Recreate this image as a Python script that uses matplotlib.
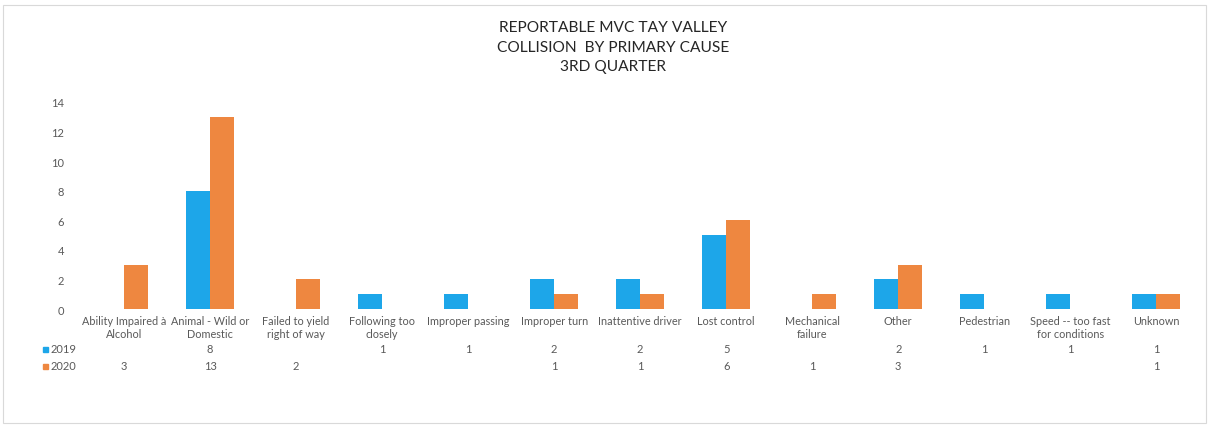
import numpy as np
import matplotlib
matplotlib.use("Agg")
import matplotlib.pyplot as plt
from matplotlib.patches import Rectangle
import matplotlib.transforms as mtransforms


# Data

categories = [
    "Ability Impaired à\nAlcohol",
    "Animal - Wild or\nDomestic",
    "Failed to yield\nright of way",
    "Following too\nclosely",
    "Improper passing",
    "Improper turn",
    "Inattentive driver",
    "Lost control",
    "Mechanical\nfailure",
    "Other",
    "Pedestrian",
    "Speed -- too fast\nfor conditions",
    "Unknown",
]
series_names = ["2019", "2020"]
values_2019 = [None, 8, None, 1, 1, 2, 2, 5, None, 2, 1, 1, 1]
values_2020 = [3, 13, 2, None, None, 1, 1, 6, 1, 3, None, None, 1]
y_ticks = [0, 2, 4, 6, 8, 10, 12, 14]

colors = ["#1DA6E9", "#EE8740"]
text_gray = "#595959"

plt.rcParams['font.family'] = ['Lato', 'DejaVu Sans']

fig = plt.figure(figsize=(12.09, 4.27), dpi=100)
ax = fig.add_axes([0.067, 0.274, 0.925, 0.485])

x = np.arange(len(categories))
width = 0.28
for i, (name, vals) in enumerate(zip(series_names, [values_2019, values_2020])):
    h = [v if v is not None else 0 for v in vals]
    ax.bar(x + (i - 0.5) * width, h, width, color=colors[i], label=name)

ax.set_xlim(-0.5, len(categories) - 0.5)
ax.set_ylim(0, 14)
ax.set_yticks(y_ticks)
ax.tick_params(axis='y', length=0, labelsize=8, labelcolor=text_gray, pad=12)
ax.set_xticks(x)
ax.set_xticklabels(categories, fontsize=7.8, color=text_gray, linespacing=1.25)
ax.tick_params(axis='x', length=0, pad=4)
for s in ax.spines.values():
    s.set_visible(False)

# data table below the axis
trans = mtransforms.blended_transform_factory(ax.transData, fig.transFigure)
row_y = [1 - 350 / 427, 1 - 367 / 427]
for i, (name, vals) in enumerate(zip(series_names, [values_2019, values_2020])):
    for xi, v in zip(x, vals):
        if v is not None:
            ax.text(xi, row_y[i], str(v), transform=trans, ha='center', va='center',
                    fontsize=8, color=text_gray, clip_on=False)
    fig.patches.append(Rectangle((43 / 1209, row_y[i] - 2.5 / 427), 5 / 1209, 5 / 427,
                                 transform=fig.transFigure, color=colors[i]))
    fig.text(51 / 1209, row_y[i], name, ha='left', va='center', fontsize=8, color=text_gray)

fig.text(0.507, 1 - 48 / 427,
         "REPORTABLE MVC TAY VALLEY\nCOLLISION  BY PRIMARY CAUSE\n3RD QUARTER",
         ha='center', va='center', fontsize=11.2, color="#262626", linespacing=1.5)

# faint outer frame
fig.patches.append(Rectangle((3 / 1209, 3 / 427), 1203 / 1209, 418 / 427, transform=fig.transFigure,
                             fill=False, edgecolor="#d9d9d9", linewidth=0.8))

fig.savefig("out.png", dpi=100)
